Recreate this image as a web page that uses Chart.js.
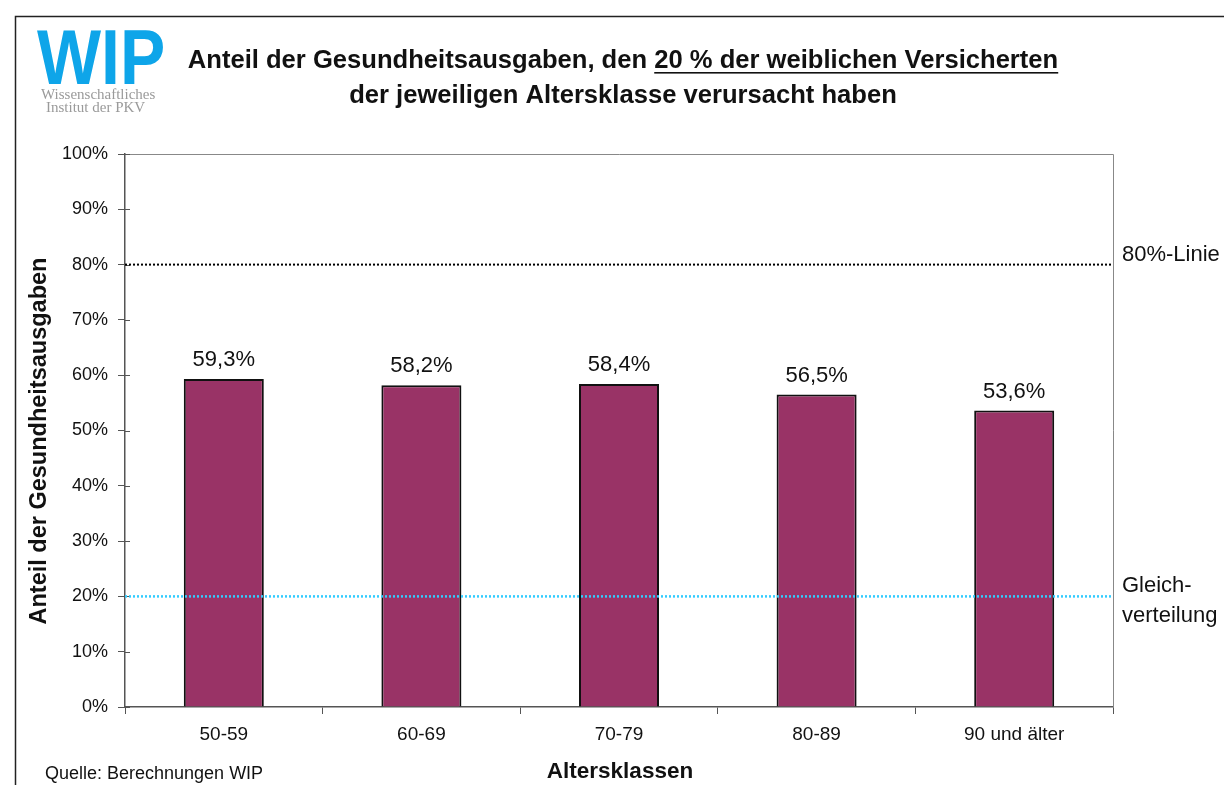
<!DOCTYPE html>
<html>
<head>
<meta charset="utf-8">
<script src="https://cdn.jsdelivr.net/npm/chart.js@4"></script>
<style>
  body { margin: 0; background: #fff; }
  canvas { display: block; }
</style>
</head>
<body>
<canvas id="chart" width="1224" height="785"></canvas>
<script>
// Daten
const categories = ['50-59', '60-69', '70-79', '80-89', '90 und älter'];
const shares = [59.3, 58.2, 58.4, 56.5, 53.6];
const shareLabels = ['59,3%', '58,2%', '58,4%', '56,5%', '53,6%'];
const refValues = [80, 20];
const refLabels = [['80%-Linie'], ['Gleich-', 'verteilung']];
const refColors = ['#000000', '#33ccff'];

const FONT = '"Liberation Sans", Arial, sans-serif';

const decor = {
  id: 'decor',
  beforeDraw(chart) {
    const ctx = chart.ctx;
    ctx.save();
    // Rahmen aussen
    ctx.strokeStyle = '#222';
    ctx.lineWidth = 1.5;
    ctx.beginPath();
    ctx.moveTo(15.5, 785);
    ctx.lineTo(15.5, 16.5);
    ctx.lineTo(1224, 16.5);
    ctx.stroke();
    ctx.restore();
  },
  afterDatasetsDraw(chart) {
    const ctx = chart.ctx;
    const a = chart.chartArea;
    const y = chart.scales.y;

    ctx.save();
    // Rahmen Plotbereich oben / rechts
    ctx.strokeStyle = '#888';
    ctx.lineWidth = 1;
    ctx.beginPath();
    ctx.moveTo(a.left, a.top + 0.5);
    ctx.lineTo(a.right + 0.5, a.top + 0.5);
    ctx.lineTo(a.right + 0.5, a.bottom);
    ctx.stroke();

    // kleine Ticks nach innen an der y-Achse
    ctx.strokeStyle = '#555';
    y.ticks.forEach(t => {
      const py = Math.round(y.getPixelForValue(t.value)) + 0.5;
      ctx.beginPath();
      ctx.moveTo(a.left, py);
      ctx.lineTo(a.left + 5, py);
      ctx.stroke();
    });

    // Referenzlinien
    refValues.forEach((v, i) => {
      const py = y.getPixelForValue(v);
      ctx.strokeStyle = refColors[i];
      ctx.lineWidth = i === 0 ? 2 : 2.5;
      ctx.setLineDash([2, 2]);
      ctx.beginPath();
      ctx.moveTo(a.left, py);
      ctx.lineTo(a.right, py);
      ctx.stroke();
      ctx.setLineDash([]);

      ctx.fillStyle = '#111';
      ctx.font = '22px ' + FONT;
      ctx.textAlign = 'left';
      ctx.textBaseline = 'alphabetic';
      const lines = refLabels[i];
      lines.forEach((l, j) => ctx.fillText(l, a.right + 9, py - 4 + j * 30));
    });

    // Werte ueber den Balken
    const meta = chart.getDatasetMeta(0);
    ctx.fillStyle = '#111';
    ctx.font = '22px ' + FONT;
    ctx.textAlign = 'center';
    ctx.textBaseline = 'alphabetic';
    meta.data.forEach((bar, i) => {
      ctx.fillText(shareLabels[i], bar.x, bar.y - 13);
    });

    // Achsentitel
    ctx.font = 'bold 22.5px ' + FONT;
    ctx.fillText('Altersklassen', 620, 778);
    ctx.save();
    ctx.translate(46, 441);
    ctx.rotate(-Math.PI / 2);
    ctx.font = 'bold 23.5px ' + FONT;
    ctx.fillText('Anteil der Gesundheitsausgaben', 0, 0);
    ctx.restore();

    // Quelle
    ctx.font = '18px ' + FONT;
    ctx.textAlign = 'left';
    ctx.fillText('Quelle: Berechnungen WIP', 45, 779);

    // Titel
    ctx.font = 'bold 25.6px ' + FONT;
    ctx.textAlign = 'left';
    const t1a = 'Anteil der Gesundheitsausgaben, den ';
    const t1b = '20 % der weiblichen Versicherten';
    const w1a = ctx.measureText(t1a).width;
    const w1b = ctx.measureText(t1b).width;
    const x1 = 623 - (w1a + w1b) / 2;
    ctx.fillText(t1a, x1, 68);
    ctx.fillText(t1b, x1 + w1a, 68);
    ctx.fillRect(x1 + w1a, 72, w1b, 1.6);
    ctx.textAlign = 'center';
    ctx.fillText('der jeweiligen Altersklasse verursacht haben', 623, 103);

    // Logo
    ctx.save();
    ctx.fillStyle = '#0ea5e9';
    ctx.font = 'bold 78px ' + FONT;
    ctx.textAlign = 'left';
    ctx.translate(37, 84);
    ctx.scale(0.87, 1);
    ctx.fillText('WIP', 0, 0);
    ctx.restore();
    ctx.fillStyle = '#9a9a9a';
    ctx.font = '15px "Liberation Serif", "DejaVu Serif", serif';
    ctx.textAlign = 'left';
    ctx.fillText('Wissenschaftliches', 41, 99);
    ctx.fillText('Institut der PKV', 46, 111.5);

    ctx.restore();
  }
};

new Chart(document.getElementById('chart'), {
  type: 'bar',
  data: {
    labels: categories,
    datasets: [{
      data: shares,
      backgroundColor: '#993366',
      borderColor: '#111111',
      borderWidth: 2,
      categoryPercentage: 1,
      barPercentage: 0.405
    }]
  },
  options: {
    responsive: false,
    animation: false,
    devicePixelRatio: 1,
    layout: { padding: { top: 154, right: 111, left: 0, bottom: 0 } },
    plugins: {
      legend: { display: false },
      title: { display: false },
      tooltip: { enabled: false }
    },
    scales: {
      x: {
        afterFit: s => { s.height = 78; },
        grid: { drawOnChartArea: false, tickLength: 7, color: '#555', offset: true },
        border: { color: '#555', width: 1.5 },
        ticks: { color: '#111', font: { family: FONT, size: 19 }, padding: 9 }
      },
      y: {
        min: 0,
        max: 100,
        afterFit: s => { s.width = 125; },
        grid: { drawOnChartArea: false, tickLength: 7, color: '#555' },
        border: { color: '#555', width: 1.5 },
        ticks: {
          stepSize: 10,
          color: '#111',
          font: { family: FONT, size: 18 },
          padding: 10,
          callback: v => v + '%'
        }
      }
    }
  },
  plugins: [decor]
});
</script>
</body>
</html>
